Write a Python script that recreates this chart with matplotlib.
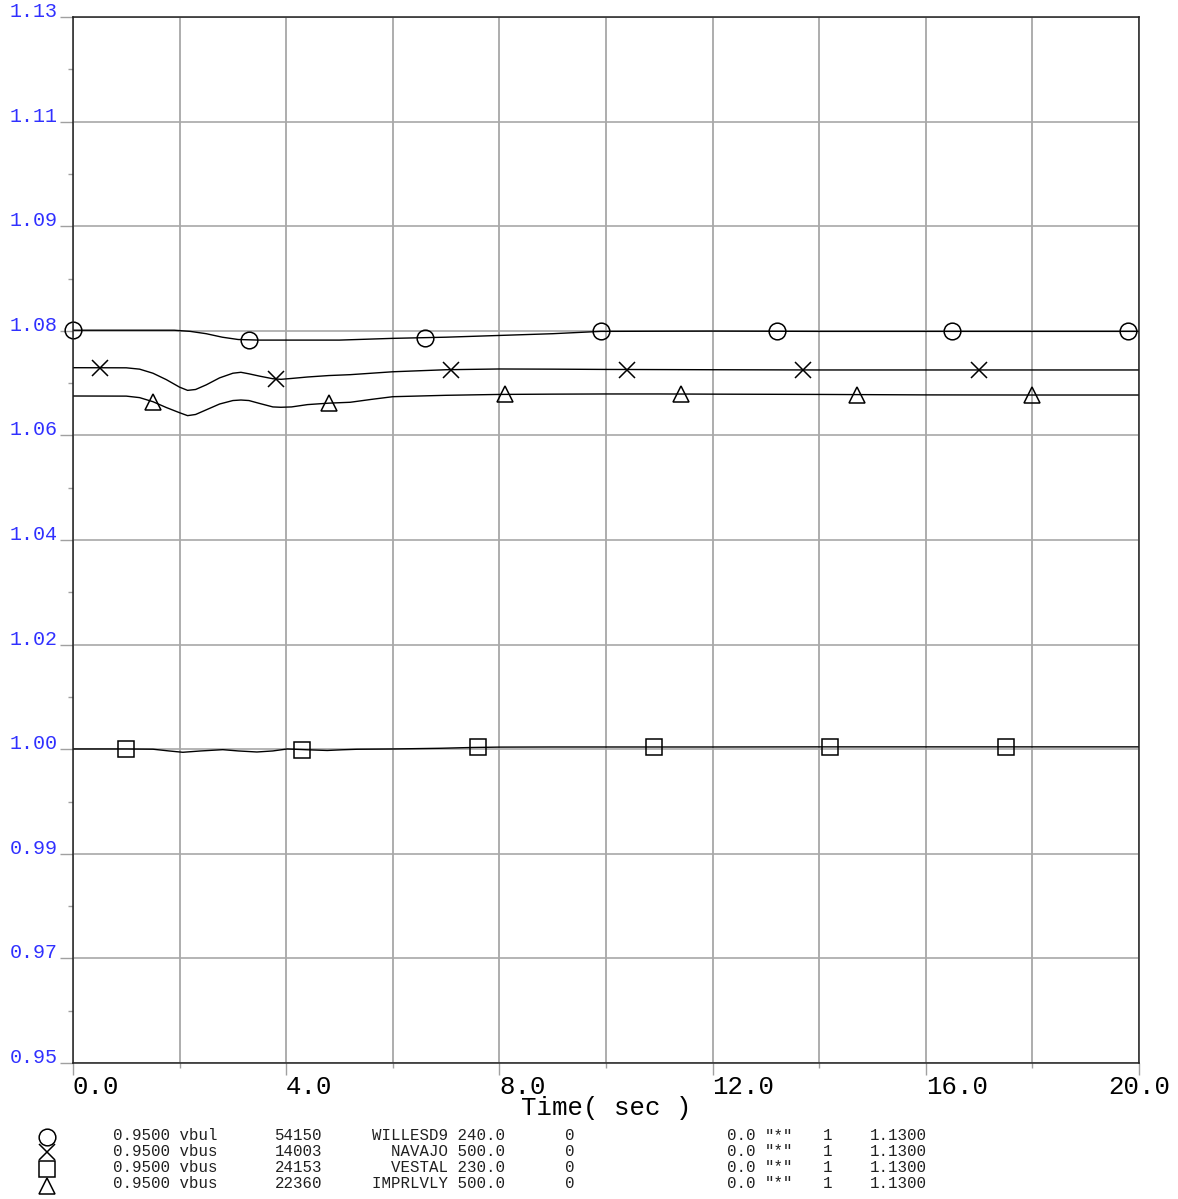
import numpy as np
import matplotlib.pyplot as plt
from matplotlib.lines import Line2D
from matplotlib.ticker import MultipleLocator, FixedLocator

W, H = 1178, 1199
plt.rcParams['font.family'] = ['Liberation Mono', 'DejaVu Sans Mono']

# WILLESD9 240.0 (circle)
t_will = np.array([0, 1.0, 1.9, 2.2, 2.5, 2.8, 3.1, 3.5, 4.5, 5.0, 6.0, 7.0, 8.0, 9.0, 9.9, 12, 14, 16, 18, 20])
v_will = np.array([1.0761, 1.0761, 1.0761, 1.0759, 1.0755, 1.0749, 1.0745, 1.0744, 1.0744, 1.0744,
                   1.0747, 1.0749, 1.0752, 1.0755, 1.0759, 1.07595, 1.0759, 1.0759, 1.0759, 1.0759])

# NAVAJO 500.0 (x)
t_nav = np.array([0, 1.0, 1.25, 1.5, 1.75, 2.0, 2.15, 2.3, 2.5, 2.75, 3.0, 3.15, 3.3, 3.5, 3.75, 3.9,
                  4.1, 4.4, 4.8, 5.2, 5.6, 6.0, 7.0, 8.0, 9.0, 10, 12, 14, 16, 18, 20])
v_nav = np.array([1.06965, 1.06963, 1.0694, 1.0687, 1.0676, 1.0663, 1.06575, 1.0659, 1.0667, 1.0679,
                  1.0687, 1.06886, 1.0686, 1.0682, 1.06775, 1.06765, 1.0678, 1.06805, 1.0683, 1.06845,
                  1.0687, 1.06895, 1.0693, 1.06943, 1.0694, 1.06935, 1.0693, 1.06926, 1.06926, 1.06926, 1.06926])

# VESTAL 230.0 (square)
t_ves = np.array([0, 1.0, 1.5, 1.8, 2.06, 2.4, 2.81, 3.1, 3.45, 3.75, 4.02, 4.4, 4.77, 5.05, 5.33,
                  6.0, 6.9, 7.5, 8.0, 9, 10, 12, 14, 16, 18, 20])
v_ves = np.array([1.00404, 1.00404, 1.0040, 1.0037, 1.00347, 1.0037, 1.00392, 1.0037, 1.00352, 1.0037,
                  1.00404, 1.0039, 1.00378, 1.0039, 1.00399, 1.00404, 1.00416, 1.0043, 1.00436, 1.00438,
                  1.00438, 1.00438, 1.0044, 1.0044, 1.0044, 1.0044])

# IMPRLVLY 500.0 (triangle)
t_imp = np.array([0, 1.0, 1.25, 1.5, 1.75, 2.0, 2.15, 2.3, 2.5, 2.75, 3.0, 3.15, 3.3, 3.5, 3.75, 3.9,
                  4.1, 4.4, 4.8, 5.2, 5.6, 6.0, 7.0, 8.0, 9, 10, 11, 12, 14, 16, 18, 20])
v_imp = np.array([1.06478, 1.06476, 1.0645, 1.0638, 1.0628, 1.0619, 1.0614, 1.0616, 1.0624, 1.0634,
                  1.0640, 1.06409, 1.0640, 1.0635, 1.0629, 1.06284, 1.0629, 1.0633, 1.06355, 1.0637,
                  1.0642, 1.06466, 1.0649, 1.06505, 1.0651, 1.06513, 1.06513, 1.0651, 1.06505,
                  1.06497, 1.06495, 1.06495])

# marker times along each curve
mk_will = [0.0, 3.3, 6.6, 9.9, 13.2, 16.5, 19.8]
mk_nav = [0.5, 3.8, 7.1, 10.4, 13.7, 17.0]
mk_ves = [1.0, 4.3, 7.6, 10.9, 14.2, 17.5]
mk_imp = [1.5, 4.8, 8.1, 11.4, 14.7, 18.0]

ytick_vals = [0.95, 0.968, 0.986, 1.004, 1.022, 1.04, 1.058, 1.076, 1.094, 1.112, 1.13]
ytick_labels = ['0.95', '0.97', '0.99', '1.00', '1.02', '1.04', '1.06', '1.08', '1.09', '1.11', '1.13']
xtick_vals = [0, 4, 8, 12, 16, 20]
xtick_labels = ['0.0', '4.0', '8.0', '12.0', '16.0', '20.0']

legend_rows = [
    ('0.9500 vbul', '54150', 'WILLESD9 240.0', '0', '0.0', '"*"', '1', '1.1300'),
    ('0.9500 vbus', '14003', 'NAVAJO 500.0', '0', '0.0', '"*"', '1', '1.1300'),
    ('0.9500 vbus', '24153', 'VESTAL 230.0', '0', '0.0', '"*"', '1', '1.1300'),
    ('0.9500 vbus', '22360', 'IMPRLVLY 500.0', '0', '0.0', '"*"', '1', '1.1300'),
]

series = [
    (t_will, v_will, mk_will, 'o', 12),
    (t_nav, v_nav, mk_nav, 'x', 12),
    (t_ves, v_ves, mk_ves, 's', 11),
    (t_imp, v_imp, mk_imp, '^', 12),
]


def fpos(x, y):
    return x / W, 1 - y / H


fig = plt.figure(figsize=(W / 100, H / 100), dpi=100)
ax = fig.add_axes([73 / W, 1 - 1063 / H, (1139 - 73) / W, (1063 - 17) / H])

for t, v, mk, m, ms in series:
    ax.plot(t, v, '-', color='black', lw=1.0)
    ax.plot(mk, np.interp(mk, t, v), linestyle='none', marker=m, ms=ms,
            mfc='none', mec='black', mew=1.1, clip_on=False)

ax.set_xlim(0, 20)
ax.set_ylim(0.95, 1.13)

ax.xaxis.set_major_locator(FixedLocator(xtick_vals))
ax.xaxis.set_minor_locator(MultipleLocator(2))
ax.set_xticklabels(xtick_labels)
ax.yaxis.set_major_locator(FixedLocator(ytick_vals))
ax.yaxis.set_minor_locator(FixedLocator([a + 0.009 for a in ytick_vals[:-1]]))
ax.set_yticklabels(ytick_labels)

ax.grid(True, which='major', axis='y', color='#a8a8a8', lw=1.2)
ax.grid(True, which='both', axis='x', color='#a0a0a0', lw=1.2)
ax.set_axisbelow(True)

ax.tick_params(axis='x', which='major', length=8.6, width=1, color='#a0a0a0', pad=0,
               labelsize=18.5, labelcolor='black')
ax.tick_params(axis='x', which='minor', length=3.6, width=1, color='#a0a0a0')
ax.tick_params(axis='y', which='major', length=9.4, width=1, color='#a0a0a0', pad=1.5,
               labelsize=14.4, labelcolor='#3030ff')
ax.tick_params(axis='y', which='minor', length=3.6, width=1, color='#a0a0a0')

for lab in ax.get_xticklabels():
    lab.set_horizontalalignment('left')
ax.get_xticklabels()[-1].set_horizontalalignment('center')
for lab in ax.get_yticklabels():
    lab.set_verticalalignment('baseline')

for s in ax.spines.values():
    s.set_color('#202020')
    s.set_linewidth(1.1)

ax.set_xlabel('Time( sec )', fontsize=18.5, va='center')
ax.xaxis.set_label_coords(0.5, -(1108 - 1063) / (1063 - 17))

# legend block under the plot
row_y = [1136, 1151, 1167, 1183]
for y, row in zip(row_y, legend_rows):
    a, b, c, d, e, f, g, h = row
    kw = dict(fontsize=11.3, va='center', color='#202020')
    fig.text(*fpos(113, y), a, ha='left', **kw)
    fig.text(*fpos(275, y), b, ha='left', **kw)
    fig.text(*fpos(505, y), c, ha='right', **kw)
    fig.text(*fpos(565, y), d, ha='left', **kw)
    fig.text(*fpos(727, y), e, ha='left', **kw)
    fig.text(*fpos(765, y), f, ha='left', **kw)
    fig.text(*fpos(823, y), g, ha='left', **kw)
    fig.text(*fpos(870, y), h, ha='left', **kw)

for (t, v, mk, m, ms), y in zip(series, [1137, 1152, 1169, 1186]):
    fig.add_artist(Line2D([47 / W], [1 - y / H], transform=fig.transFigure, marker=m, ms=ms,
                          mfc='none', mec='black', mew=1.1, linestyle='none'))

fig.savefig('out.png', dpi=100)
